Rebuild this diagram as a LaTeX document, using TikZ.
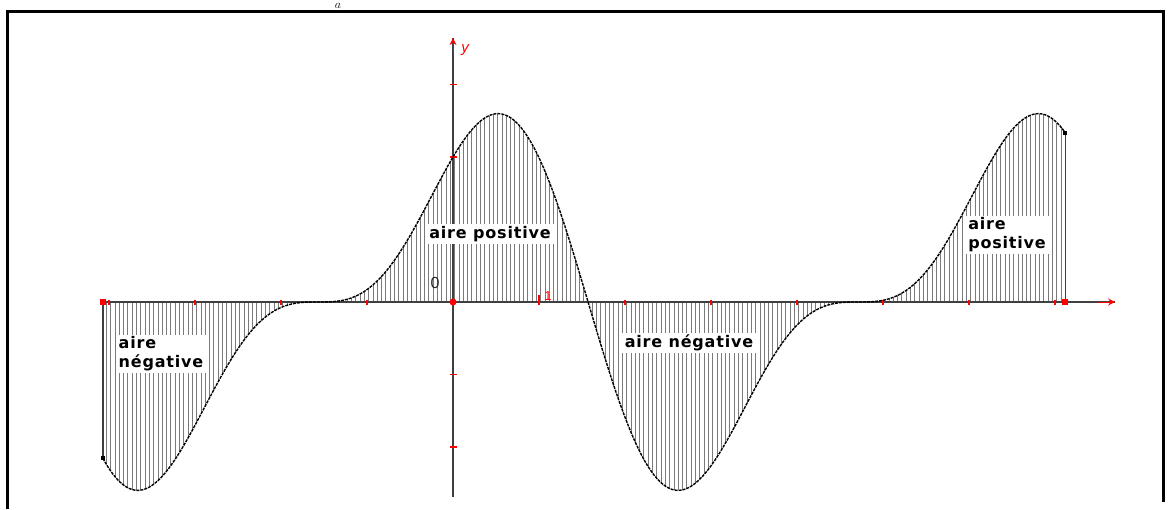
\documentclass[tikz,border=0pt]{standalone}
\usepackage{fontspec}
\newfontfamily\lblfont[LetterSpace=5]{DejaVu Sans}
\newfontfamily\axfont{Liberation Sans}
\usetikzlibrary{arrows.meta}
\begin{document}
\begin{tikzpicture}[x=1pt,y=1pt,
  lbl/.style={fill=white,inner xsep=3pt,inner ysep=2pt,font=\lblfont\bfseries\fontsize{16}{19}\selectfont,align=left},
  axisline/.style={draw=black!75,line width=2pt},
  hatch/.style={draw=black!52,line width=1pt},
  curveline/.style={draw=black,line width=1.4pt,dash pattern=on 3pt off 1pt},
  rtick/.style={draw=red,line width=1.5pt},
  frameline/.style={draw=black,line width=3pt},
  redarrow/.style={draw=red,line width=1pt,-{Stealth[length=7pt,width=7pt]}}]
\useasboundingbox (-453,-207) rectangle (722,302);
\coordinate (f1) at (-445,-207);
\coordinate (f2) at (-445,290);
\coordinate (f3) at (710,290);
\coordinate (f4) at (710,-200);
\draw[frameline] (f1) -- (f2) -- (f3) -- (f4);
\node[font=\fontsize{12}{12}\selectfont,inner sep=0pt,anchor=base] (atop) at (-115,293) {$a$};
\begin{scope}[x=86pt,y=72.5pt]
  \foreach \i in {0,...,222} {
    \pgfmathsetmacro\t{-4.03+0.05*\i}
    \draw[hatch] (\t,0) -- (\t,{2*cos(\t r)+sin(2*\t r)});
  }
  \coordinate (xs) at (-4.105,0);
  \coordinate (xe) at (7.70,0);
  \coordinate (xa) at (7.50,0);
  \coordinate (ys) at (0,-2.69);
  \coordinate (ye) at (0,3.64);
  \coordinate (ya) at (0,3.45);
  \draw[axisline] (xs) -- (xe);
  \draw[axisline] (ys) -- (ye);
  \draw[redarrow] (xa) -- (xe);
  \draw[redarrow] (ya) -- (ye);
  \foreach \k in {-4,...,7} \draw[rtick] (\k,0) ++(0,-2.5pt) -- ++(0,5pt);
  \draw[rtick] (1,0) ++(0,-3pt) -- ++(0,10pt);
  \foreach \k in {-2,-1,1,2,3} \draw[rtick] (0,\k) ++(-3.5pt,0) -- ++(7pt,0);
  \coordinate (pa) at (-4.07,{2*cos(-4.07 r)+sin(-8.14 r)});
  \coordinate (pb) at (7.12,{2*cos(7.12 r)+sin(14.24 r)});
  \coordinate (qa) at (-4.07,0);
  \coordinate (qb) at (7.12,0);
  \draw[axisline,line width=1.6pt] (qa) -- (pa);
  \draw[axisline,line width=1.6pt] (qb) -- (pb);
  \draw[curveline] plot[domain=-4.07:7.12,samples=400] (\x,{2*cos(\x r)+sin(2*\x r)});
  \fill[black] (pa) +(-2pt,-2pt) rectangle +(2pt,2pt);
  \fill[black] (pb) +(-2pt,-2pt) rectangle +(2pt,2pt);
  \fill[red] (qa) +(-3pt,-3pt) rectangle +(3pt,3pt);
  \fill[red] (qb) +(-3pt,-3pt) rectangle +(3pt,3pt);
  \fill[red] (0,0) circle (3.5pt);
\end{scope}
\node[lbl] (nl) at (-292,-52) {aire\\négative};
\node[lbl] (pm) at (37,68) {aire positive};
\node[lbl] (nm) at (236,-41) {aire négative};
\node[lbl] (pr) at (554,67) {aire\\positive};
\node[font=\axfont\fontsize{16}{16}\selectfont,text=black!85] (zero) at (-18,19) {0};
\node[font=\axfont\fontsize{13}{13}\selectfont,text=red] (one) at (95,6) {1};
\node[font=\axfont\itshape\fontsize{15}{15}\selectfont,text=red] (ylab) at (12,252) {y};
\end{tikzpicture}
\end{document}
